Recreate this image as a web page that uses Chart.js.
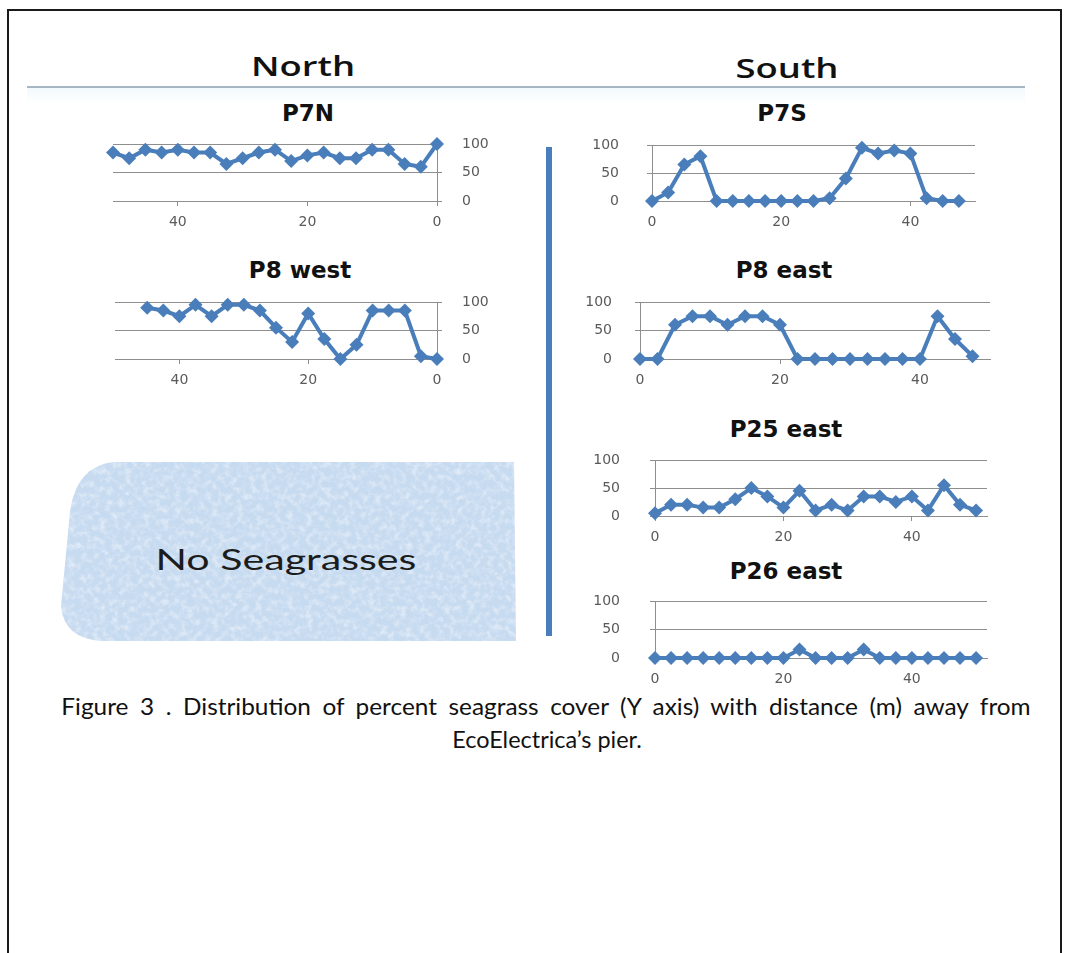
<!DOCTYPE html>
<html>
<head>
<meta charset="utf-8">
<script src="https://cdn.jsdelivr.net/npm/chart.js@4/dist/chart.umd.min.js"></script>
<style>
  html, body { margin: 0; padding: 0; background: #fff; }
  body { width: 1065px; height: 953px; position: relative; overflow: hidden; }
  .frame { position: absolute; left: 7px; top: 9px; width: 1055px; height: 1000px;
           border: 2px solid #1a1a1a; border-bottom: none; box-sizing: border-box; }
  .rule { position: absolute; left: 27px; top: 86px; width: 998px; height: 2px; background: #a6b6c2; }
  .haze { position: absolute; left: 27px; top: 88px; width: 998px; height: 16px;
          background: linear-gradient(#f2f9fd, rgba(255,255,255,0)); }
  .divider { position: absolute; left: 546px; top: 147px; width: 6px; height: 489px; background: #4a7ebb; }
  .lbl { position: absolute; white-space: nowrap; line-height: 1; }
  .side { font-family: "Open Sans", sans-serif; font-weight: 600; font-size: 27px; color: #111; }
  .ttl { font-family: "DejaVu Sans", sans-serif; font-weight: bold; font-size: 23px; color: #111; }
  .none { font-family: "Lato", sans-serif; font-size: 29px; color: #1c1c1c; }
  .cap { font-family: "Lato", sans-serif; font-size: 23px; color: #111; }
  canvas { position: absolute; }
  svg { position: absolute; left: 0; top: 0; }
</style>
</head>
<body>
<script>
// Percent seagrass cover along each transect, by distance (m) from the pier.
const xTickLabels = [0, 20, 40];
const yTickLabels = [0, 50, 100];

const p7nDistance = [50, 47.5, 45, 42.5, 40, 37.5, 35, 32.5, 30, 27.5, 25, 22.5, 20, 17.5, 15, 12.5, 10, 7.5, 5, 2.5, 0];
const p7nCover    = [85, 75, 90, 85, 90, 85, 85, 65, 75, 85, 90, 70, 80, 85, 75, 75, 90, 90, 65, 60, 100];

const p8wDistance = [45, 42.5, 40, 37.5, 35, 32.5, 30, 27.5, 25, 22.5, 20, 17.5, 15, 12.5, 10, 7.5, 5, 2.5, 0];
const p8wCover    = [90, 85, 75, 95, 75, 95, 95, 85, 55, 30, 80, 35, 0, 25, 85, 85, 85, 5, 0];

const p7sDistance = [0, 2.5, 5, 7.5, 10, 12.5, 15, 17.5, 20, 22.5, 25, 27.5, 30, 32.5, 35, 37.5, 40, 42.5, 45, 47.5];
const p7sCover    = [0, 15, 65, 80, 0, 0, 0, 0, 0, 0, 0, 5, 40, 95, 85, 90, 85, 5, 0, 0];

const p8eDistance = [0, 2.5, 5, 7.5, 10, 12.5, 15, 17.5, 20, 22.5, 25, 27.5, 30, 32.5, 35, 37.5, 40, 42.5, 45, 47.5];
const p8eCover    = [0, 0, 60, 75, 75, 60, 75, 75, 60, 0, 0, 0, 0, 0, 0, 0, 0, 75, 35, 5];

const p25Distance = [0, 2.5, 5, 7.5, 10, 12.5, 15, 17.5, 20, 22.5, 25, 27.5, 30, 32.5, 35, 37.5, 40, 42.5, 45, 47.5, 50];
const p25Cover    = [5, 20, 20, 15, 15, 30, 50, 35, 15, 45, 10, 20, 10, 35, 35, 25, 35, 10, 55, 20, 10];

const p26Distance = [0, 2.5, 5, 7.5, 10, 12.5, 15, 17.5, 20, 22.5, 25, 27.5, 30, 32.5, 35, 37.5, 40, 42.5, 45, 47.5, 50];
const p26Cover    = [0, 0, 0, 0, 0, 0, 0, 0, 0, 15, 0, 0, 0, 15, 0, 0, 0, 0, 0, 0, 0];

const SERIES_BLUE = '#4a7ebb';
const AXIS_GREY = '#8e8e8e';
const TICK_FONT = { family: 'DejaVu Sans', size: 14 };
const TICK_COLOR = '#5a5a5a';

// Centered label at (cx, cy) with an optional horizontal stretch.
function label(cls, text, cx, cy, sx, extraStyle) {
  const s = sx || 1;
  return `<div class="lbl ${cls}" style="left:${cx}px;top:${cy}px;transform:translate(-50%,-50%) scaleX(${s});${extraStyle || ''}">${text}</div>`;
}

const PATCH = 'M114 462 L514 462 L516 641 L102 641 Q64 639 61 606 L70 512 Q76 466 114 462 Z';

// Static page furniture: frame, header rule, divider, headings, caption.
document.body.insertAdjacentHTML('beforeend', `
  <div class="frame"></div>
  <div class="rule"></div>
  <div class="haze"></div>
  <div class="divider"></div>
  <svg width="1065" height="953">
    <defs>
      <filter id="mottle" x="0" y="0" width="100%" height="100%">
        <feTurbulence type="fractalNoise" baseFrequency="0.16" numOctaves="3" seed="7" result="n"/>
        <feColorMatrix in="n" type="matrix" values="0 0 0 0 1  0 0 0 0 1  0 0 0 0 1  2.4 0 0 0 -1.0" result="spots"/>
        <feComposite in="spots" in2="SourceAlpha" operator="in"/>
      </filter>
    </defs>
    <path d="${PATCH}" fill="#c6daf0"/>
    <path d="${PATCH}" fill="#fff" filter="url(#mottle)" opacity="0.45"/>
  </svg>
  ${label('side', 'North', 303, 65, 1.35)}
  ${label('side', 'South', 787, 67, 1.35)}
  ${label('ttl', 'P7N', 308, 113)}
  ${label('ttl', 'P7S', 782, 113)}
  ${label('ttl', 'P8 west', 300, 270)}
  ${label('ttl', 'P8 east', 784, 270)}
  ${label('ttl', 'P25 east', 786, 429)}
  ${label('ttl', 'P26 east', 786, 571)}
  ${label('none', 'No Seagrasses', 286, 558, 1.42)}
  ${label('cap', 'Figure 3 . Distribution of percent seagrass cover (Y axis) with distance (m) away from', 546, 706, 1.06, 'word-spacing:5px')}
  ${label('cap', 'EcoElectrica’s pier.', 547, 739, 1.02)}
`);

// One small transect chart; the plot box is given in page pixels.
function transect(distance, cover, box) {
  const SIDE = 95, TOP = 16, BOTTOM = 38;
  const w = Math.round(box.right - box.left + 2 * SIDE);
  const h = Math.round(box.bottom - box.top + TOP + BOTTOM);
  const cv = document.createElement('canvas');
  cv.width = w; cv.height = h;
  cv.style.left = (box.left - SIDE) + 'px';
  cv.style.top = (box.top - TOP) + 'px';
  cv.style.width = w + 'px'; cv.style.height = h + 'px';
  document.body.appendChild(cv);

  const yLeft = box.yAxis === 'left';
  new Chart(cv, {
    type: 'scatter',
    data: {
      datasets: [{
        data: distance.map((d, i) => ({ x: d, y: cover[i] })),
        showLine: true,
        borderColor: SERIES_BLUE,
        backgroundColor: SERIES_BLUE,
        borderWidth: 4,
        pointStyle: 'rectRot',
        pointRadius: 7,
        pointBorderWidth: 0,
        tension: 0,
        clip: false
      }]
    },
    options: {
      responsive: false,
      animation: false,
      devicePixelRatio: 1,
      layout: { padding: { top: TOP, bottom: 0, left: yLeft ? 0 : SIDE, right: yLeft ? SIDE : 0 } },
      plugins: { legend: { display: false }, tooltip: { enabled: false } },
      scales: {
        x: {
          type: 'linear', min: 0, max: box.xMax, reverse: !!box.reverse,
          afterBuildTicks: s => { s.ticks = xTickLabels.map(v => ({ value: v })); },
          afterFit: s => { s.height = BOTTOM; s.paddingLeft = 0; s.paddingRight = 0; },
          grid: { drawOnChartArea: false, drawTicks: true, tickLength: 5, color: AXIS_GREY },
          border: { display: true, color: AXIS_GREY, width: 1 },
          ticks: { font: TICK_FONT, color: TICK_COLOR, padding: 8, maxRotation: 0, autoSkip: false }
        },
        y: {
          position: box.yAxis, min: 0, max: 100,
          afterBuildTicks: s => { s.ticks = yTickLabels.map(v => ({ value: v })); },
          // keep the wide label gap from pushing the plot box down
          afterFit: s => { s.width = SIDE; s.paddingTop = 0; s.paddingBottom = 0; },
          grid: { color: AXIS_GREY, lineWidth: 1, drawTicks: true, tickLength: 5 },
          border: { display: true, color: AXIS_GREY, width: 1 },
          ticks: { font: TICK_FONT, color: TICK_COLOR, padding: box.tickPad }
        }
      }
    }
  });
}

transect(p7nDistance, p7nCover, { left: 113, right: 437, top: 144, bottom: 201, yAxis: 'right', reverse: true, xMax: 50, tickPad: 20 });
transect(p8wDistance, p8wCover, { left: 115, right: 437, top: 302, bottom: 359, yAxis: 'right', reverse: true, xMax: 50, tickPad: 20 });
transect(p7sDistance, p7sCover, { left: 652, right: 975, top: 145, bottom: 201, yAxis: 'left', xMax: 50, tickPad: 28 });
transect(p8eDistance, p8eCover, { left: 640, right: 990, top: 302, bottom: 359, yAxis: 'left', xMax: 50, tickPad: 23 });
transect(p25Distance, p25Cover, { left: 655, right: 987, top: 460, bottom: 516, yAxis: 'left', xMax: 51.7, tickPad: 30 });
transect(p26Distance, p26Cover, { left: 655, right: 987, top: 601, bottom: 658, yAxis: 'left', xMax: 51.7, tickPad: 30 });
</script>
</body>
</html>
